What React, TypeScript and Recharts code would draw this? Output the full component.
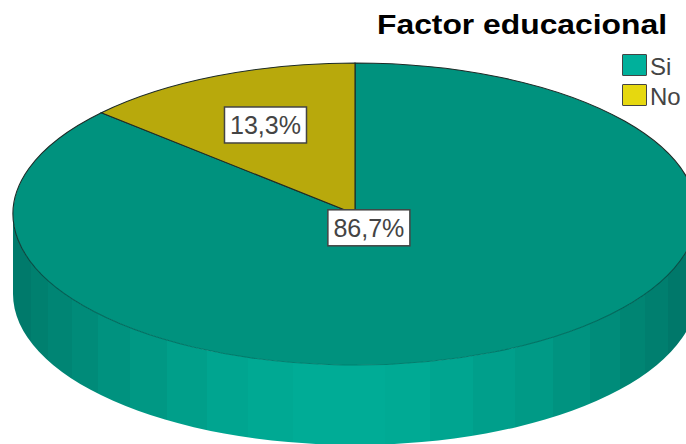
import { Cell, Legend, Pie, PieChart } from 'recharts';

const categories = ['Si', 'No'];
const percents = [86.7, 13.3];
const title = 'Factor educacional';

const topColors = ['#00927e', '#b8a90c'];
const legendColors = ['#00b09b', '#e6d80f'];
// how far along the radius each label sits
const labelRadii = [0.1, 0.645];

// strips of the side wall: x of the right edge, then shade
const wallStrips: [number, string][] = [
  [31, '#007a6b'],
  [48, '#00806f'],
  [72, '#008574'],
  [98, '#008b79'],
  [130, '#00927f'],
  [167, '#009884'],
  [207, '#009f8a'],
  [248, '#00a590'],
  [293, '#00a993'],
  [385, '#00ac96'],
  [430, '#00aa94'],
  [473, '#00a590'],
  [515, '#009f8b'],
  [553, '#009a86'],
  [590, '#009380'],
  [620, '#008c7a'],
  [645, '#008573'],
  [668, '#007f6f'],
  [697, '#00786a'],
];

const data = categories.map((name, i) => ({ name, value: percents[i] }));

const CX = 355;
const CY = 214;
const RX = 342;
const RY = 151;
const DEPTH = 80;

const rad = Math.PI / 180;
const px = (a: number) => CX + RX * Math.cos(a * rad);
const py = (a: number) => CY - RY * Math.sin(a * rad);

function EllipseSector(props: any) {
  const { startAngle, endAngle, fill, index } = props;
  const large = Math.abs(startAngle - endAngle) > 180 ? 1 : 0;
  const top = `M${CX},${CY} L${px(startAngle)},${py(startAngle)} A${RX},${RY} 0 ${large} 1 ${px(endAngle)},${py(endAngle)} Z`;
  const wall = `M${CX - RX},${CY} A${RX},${RY} 0 0 0 ${CX + RX},${CY} L${CX + RX},${CY + DEPTH} A${RX},${RY} 0 0 1 ${CX - RX},${CY + DEPTH} Z`;
  return (
    <g>
      {index === 0 && <path d={wall} fill="url(#wallGrad)" />}
      <path d={top} fill={fill} stroke="url(#rimGrad)" strokeWidth={1.1} />
    </g>
  );
}

function renderLabel(props: any) {
  const { midAngle, index } = props;
  const x = CX + RX * labelRadii[index] * Math.cos(midAngle * rad);
  const y = CY - RY * labelRadii[index] * Math.sin(midAngle * rad);
  const text = `${percents[index].toFixed(1).replace('.', ',')}%`;
  return (
    <g key={index}>
      <rect x={x - 41} y={y - 18} width={82} height={36} fill="#fff" stroke="#444" strokeWidth={1.5} />
      <text
        x={x}
        y={y + 9}
        textAnchor="middle"
        fontFamily="Liberation Sans"
        fontSize={25}
        textLength={71}
        lengthAdjust="spacingAndGlyphs"
        fill="#444"
      >
        {text}
      </text>
    </g>
  );
}

function LegendBox() {
  return (
    <div style={{ fontFamily: 'Liberation Sans', fontSize: 24, color: '#444' }}>
      {categories.map((c, i) => (
        <div key={c} style={{ display: 'flex', alignItems: 'center', height: 30 }}>
          <span
            style={{
              width: 23,
              height: 20,
              background: legendColors[i],
              border: '1.5px solid #444',
              marginRight: 3,
              borderRadius: 1,
            }}
          />
          <span style={{ position: 'relative', top: 2 }}>{c}</span>
        </div>
      ))}
    </div>
  );
}

export default function App() {
  return (
    <div style={{ position: 'absolute', left: 0, top: 0, width: 686, height: 444, overflow: 'hidden' }}>
      <PieChart width={686} height={444} margin={{ top: 0, right: 0, bottom: 0, left: 0 }}>
        <defs>
          <linearGradient id="wallGrad" gradientUnits="userSpaceOnUse" x1={CX - RX} x2={CX + RX} y1={0} y2={0}>
            {wallStrips.flatMap(([x, color], i) => {
              const from = i === 0 ? CX - RX : wallStrips[i - 1][0];
              return [
                <stop key={`${i}a`} offset={(from - (CX - RX)) / (2 * RX)} stopColor={color} />,
                <stop key={`${i}b`} offset={(x - (CX - RX)) / (2 * RX)} stopColor={color} />,
              ];
            })}
          </linearGradient>
          <linearGradient id="rimGrad" gradientUnits="userSpaceOnUse" x1={0} x2={0} y1={CY - RY} y2={CY + RY}>
            <stop offset={0} stopColor="#1c2a26" />
            <stop offset={0.5} stopColor="#1c2a26" />
            <stop offset={0.72} stopColor="#00564c" />
            <stop offset={1} stopColor="#00806f" />
          </linearGradient>
        </defs>
        <Pie
          data={data}
          dataKey="value"
          nameKey="name"
          cx={CX}
          cy={CY}
          outerRadius={RX}
          startAngle={90}
          endAngle={-270}
          stroke="none"
          shape={EllipseSector}
          label={renderLabel}
          labelLine={false}
          isAnimationActive={false}
        >
          {data.map((d, i) => (
            <Cell key={d.name} fill={topColors[i]} />
          ))}
        </Pie>
        <text
          x={377}
          y={34}
          fontFamily="Liberation Sans"
          fontWeight="bold"
          fontSize={27}
          textLength={290}
          lengthAdjust="spacingAndGlyphs"
          fill="#000"
        >
          {title}
        </text>
        <Legend
          content={<LegendBox />}
          layout="vertical"
          align="right"
          verticalAlign="top"
          wrapperStyle={{ left: 622, top: 50, width: 64 }}
        />
      </PieChart>
    </div>
  );
}
